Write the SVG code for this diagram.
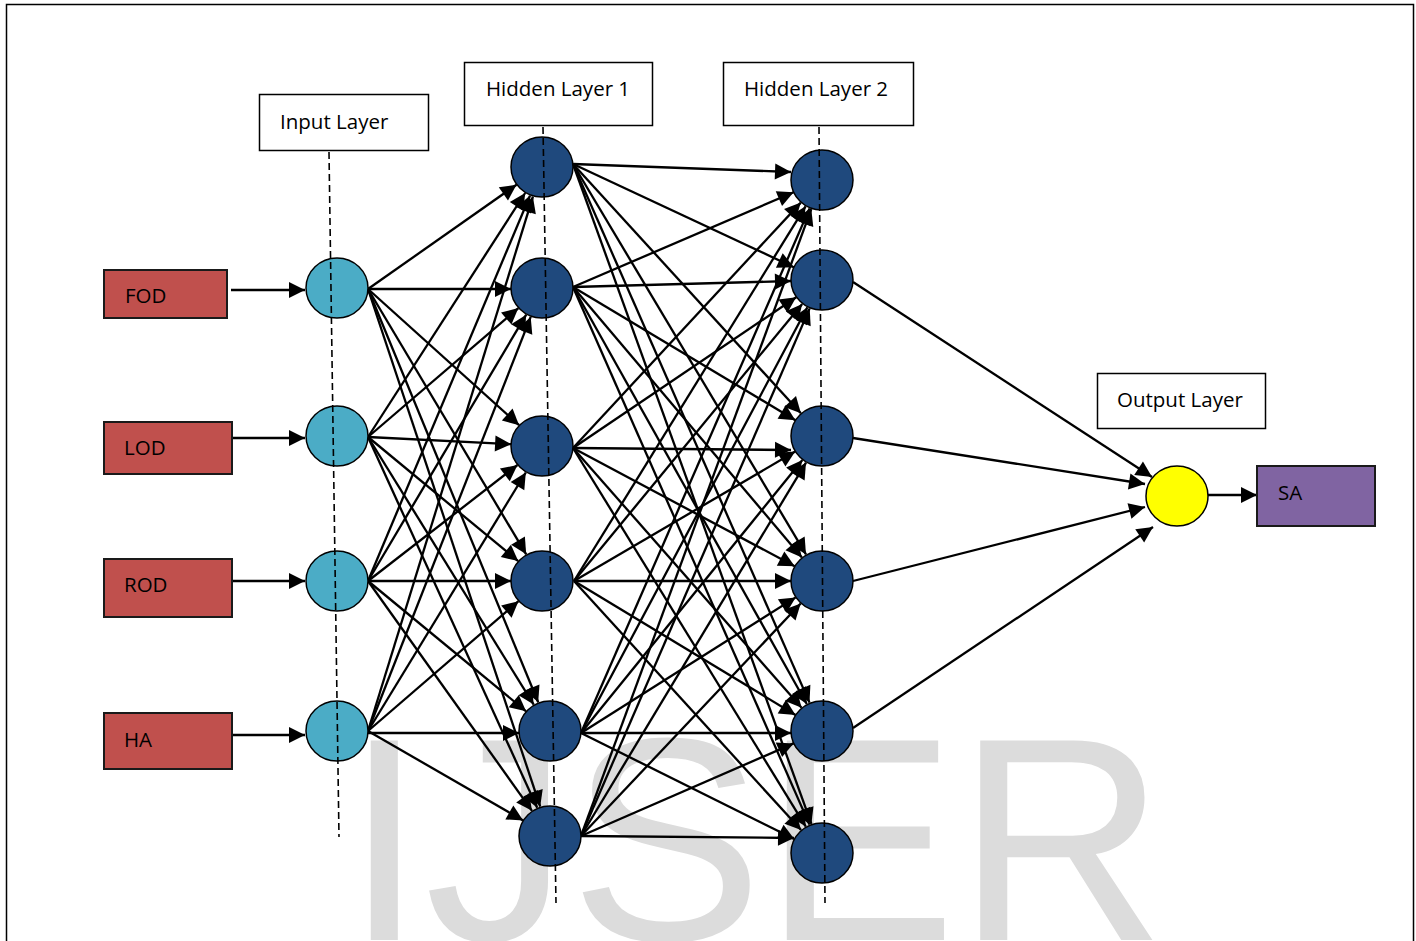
<svg xmlns="http://www.w3.org/2000/svg" width="1416" height="941" viewBox="0 0 1416 941">
<style>
.lbl{font-family:"Open Sans","Liberation Sans",sans-serif;font-size:20.5px;fill:#000}
.box{fill:#fff;stroke:#000;stroke-width:1.5}
.inbox{fill:#c0504d;stroke:#1a1a1a;stroke-width:2}
.inp{fill:#4bacc6;stroke:#000;stroke-width:1.5}
.hid{fill:#1f497d;stroke:#000;stroke-width:1.5}
.out{fill:#ffff00;stroke:#000;stroke-width:1.5}
.sa{fill:#8064a2;stroke:#1a1a1a;stroke-width:2}
.dash{stroke:#000;stroke-width:1.6;stroke-dasharray:7 4;fill:none}
#connectors line{stroke:#000;stroke-width:2.3;marker-end:url(#ah)}
</style>
<defs>
<marker id="ah" markerUnits="userSpaceOnUse" markerWidth="18" markerHeight="18" viewBox="0 0 18 18" refX="16" refY="9" orient="auto" overflow="visible">
<path d="M0,1 L16,9 L0,17 z" fill="#000"/>
</marker>
</defs>
<rect x="0" y="0" width="1416" height="941" fill="#fff"/>
<text x="344" y="940" font-family="Liberation Sans, Arial, sans-serif" font-size="290" fill="#dcdcdc">IJSER</text>
<rect x="6.5" y="4.5" width="1407" height="960" fill="none" stroke="#000" stroke-width="1.5"/>

<g id="connectors">
<line x1="231" y1="290" x2="305" y2="290"/>
<line x1="233" y1="438" x2="305" y2="438"/>
<line x1="233" y1="581" x2="305" y2="581"/>
<line x1="233" y1="735" x2="305" y2="735"/>

<line x1="368" y1="289" x2="516.5" y2="184.7"/>
<line x1="368" y1="289" x2="511" y2="289"/>
<line x1="368" y1="289" x2="519.1" y2="425.2"/>
<line x1="368" y1="289" x2="526.2" y2="554.3"/>
<line x1="368" y1="289" x2="538.2" y2="702.3"/>
<line x1="368" y1="289" x2="540.2" y2="806.6"/>

<line x1="368" y1="437" x2="525.2" y2="193"/>
<line x1="368" y1="437" x2="518.4" y2="308.1"/>
<line x1="368" y1="437" x2="511.1" y2="444.2"/>
<line x1="368" y1="437" x2="518.2" y2="561.1"/>
<line x1="368" y1="437" x2="533.7" y2="704.6"/>
<line x1="368" y1="437" x2="537.2" y2="807.8"/>

<line x1="368" y1="581" x2="530" y2="195.6"/>
<line x1="368" y1="581" x2="526.2" y2="314.7"/>
<line x1="368" y1="581" x2="517.5" y2="465"/>
<line x1="368" y1="581" x2="511" y2="581"/>
<line x1="368" y1="581" x2="526.1" y2="711.3"/>
<line x1="368" y1="581" x2="532" y2="810.8"/>

<line x1="368" y1="731" x2="532.9" y2="196.6"/>
<line x1="368" y1="731" x2="530.7" y2="316.9"/>
<line x1="368" y1="731" x2="525.8" y2="472.5"/>
<line x1="368" y1="731" x2="518.5" y2="601.2"/>
<line x1="368" y1="733" x2="519" y2="733"/>
<line x1="368" y1="731" x2="523.2" y2="820.5"/>

<line x1="573" y1="164" x2="791" y2="172"/>
<line x1="573" y1="164" x2="793.8" y2="267.2"/>
<line x1="573" y1="164" x2="800.9" y2="413.3"/>
<line x1="573" y1="164" x2="806" y2="554.4"/>
<line x1="573" y1="164" x2="809.5" y2="702.6"/>
<line x1="573" y1="164" x2="811.4" y2="823.9"/>

<line x1="573" y1="287" x2="793.6" y2="192.3"/>
<line x1="573" y1="287" x2="791" y2="281"/>
<line x1="573" y1="287" x2="795.4" y2="420.2"/>
<line x1="573" y1="287" x2="801.9" y2="557.4"/>
<line x1="573" y1="287" x2="806.8" y2="704"/>
<line x1="573" y1="287" x2="809.5" y2="824.6"/>

<line x1="573" y1="448" x2="800.8" y2="202.6"/>
<line x1="573" y1="448" x2="796.2" y2="297.2"/>
<line x1="573" y1="448" x2="791" y2="450"/>
<line x1="573" y1="448" x2="794.7" y2="566.2"/>
<line x1="573" y1="448" x2="801.6" y2="707.7"/>
<line x1="573" y1="448" x2="805.8" y2="826.6"/>

<line x1="574" y1="581" x2="805.6" y2="206.3"/>
<line x1="574" y1="581" x2="802.2" y2="303.9"/>
<line x1="574" y1="581" x2="795.2" y2="451.6"/>
<line x1="574" y1="581" x2="791" y2="581"/>
<line x1="574" y1="581" x2="795.5" y2="715"/>
<line x1="574" y1="581" x2="801.1" y2="830.1"/>

<line x1="581" y1="733" x2="809.6" y2="208.4"/>
<line x1="581" y1="733" x2="807.4" y2="307.3"/>
<line x1="581" y1="733" x2="802.4" y2="460"/>
<line x1="581" y1="733" x2="795.7" y2="597.4"/>
<line x1="581" y1="733" x2="791" y2="733"/>
<line x1="581" y1="733" x2="794.3" y2="839"/>

<line x1="581" y1="836" x2="811.3" y2="209.1"/>
<line x1="581" y1="836" x2="809.7" y2="308.4"/>
<line x1="581" y1="836" x2="806" y2="462.6"/>
<line x1="581" y1="836" x2="800.7" y2="603.5"/>
<line x1="581" y1="836" x2="793.6" y2="743.4"/>
<line x1="581" y1="836" x2="794" y2="838"/>

<line x1="853" y1="282" x2="1152" y2="477"/>
<line x1="853" y1="438" x2="1145" y2="484"/>
<line x1="853" y1="581" x2="1145" y2="507"/>
<line x1="853" y1="728" x2="1153" y2="527"/>

<line x1="1208" y1="495" x2="1257" y2="495"/>
</g>

<g id="label-input"><rect class="box" x="259.5" y="94.5" width="169" height="56"/><text class="lbl" x="280" y="129">Input Layer</text></g>
<g id="label-hidden1"><rect class="box" x="464.5" y="62.5" width="188" height="63"/><text class="lbl" x="486" y="96">Hidden Layer 1</text></g>
<g id="label-hidden2"><rect class="box" x="723.5" y="62.5" width="190" height="63"/><text class="lbl" x="744" y="96">Hidden Layer 2</text></g>
<g id="label-output"><rect class="box" x="1097.5" y="373.5" width="168" height="55"/><text class="lbl" x="1117" y="407">Output Layer</text></g>

<g id="in-FOD"><rect class="inbox" x="104" y="270" width="123" height="48"/><text class="lbl" x="125" y="303">FOD</text></g>
<g id="in-LOD"><rect class="inbox" x="104" y="422" width="128" height="52"/><text class="lbl" x="124" y="455">LOD</text></g>
<g id="in-ROD"><rect class="inbox" x="104" y="559" width="128" height="58"/><text class="lbl" x="124" y="592">ROD</text></g>
<g id="in-HA"><rect class="inbox" x="104" y="713" width="128" height="56"/><text class="lbl" x="124" y="747">HA</text></g>

<g id="i1"><ellipse class="inp" cx="337" cy="288" rx="31" ry="30"/></g>
<g id="i2"><ellipse class="inp" cx="337" cy="436" rx="31" ry="30"/></g>
<g id="i3"><ellipse class="inp" cx="337" cy="581" rx="31" ry="30"/></g>
<g id="i4"><ellipse class="inp" cx="337" cy="731" rx="31" ry="30"/></g>

<g id="h1-1"><ellipse class="hid" cx="542" cy="167" rx="31" ry="30"/></g>
<g id="h1-2"><ellipse class="hid" cx="542" cy="288" rx="31" ry="30"/></g>
<g id="h1-3"><ellipse class="hid" cx="542" cy="446" rx="31" ry="30"/></g>
<g id="h1-4"><ellipse class="hid" cx="542" cy="581" rx="31" ry="30"/></g>
<g id="h1-5"><ellipse class="hid" cx="550" cy="731" rx="31" ry="30"/></g>
<g id="h1-6"><ellipse class="hid" cx="550" cy="836" rx="31" ry="30"/></g>

<g id="h2-1"><ellipse class="hid" cx="822" cy="180" rx="31" ry="30"/></g>
<g id="h2-2"><ellipse class="hid" cx="822" cy="280" rx="31" ry="30"/></g>
<g id="h2-3"><ellipse class="hid" cx="822" cy="436" rx="31" ry="30"/></g>
<g id="h2-4"><ellipse class="hid" cx="822" cy="581" rx="31" ry="30"/></g>
<g id="h2-5"><ellipse class="hid" cx="822" cy="731" rx="31" ry="30"/></g>
<g id="h2-6"><ellipse class="hid" cx="822" cy="853" rx="31" ry="30"/></g>

<g id="out"><ellipse class="out" cx="1177" cy="496" rx="31" ry="30"/></g>
<g id="out-SA"><rect class="sa" x="1257" y="466" width="118" height="60"/><text class="lbl" x="1278" y="500">SA</text></g>

<g id="guides">
<line class="dash" x1="329" y1="152" x2="339" y2="837"/>
<line class="dash" x1="543" y1="127" x2="556" y2="903"/>
<line class="dash" x1="819" y1="127" x2="825" y2="903"/>
</g>
</svg>
